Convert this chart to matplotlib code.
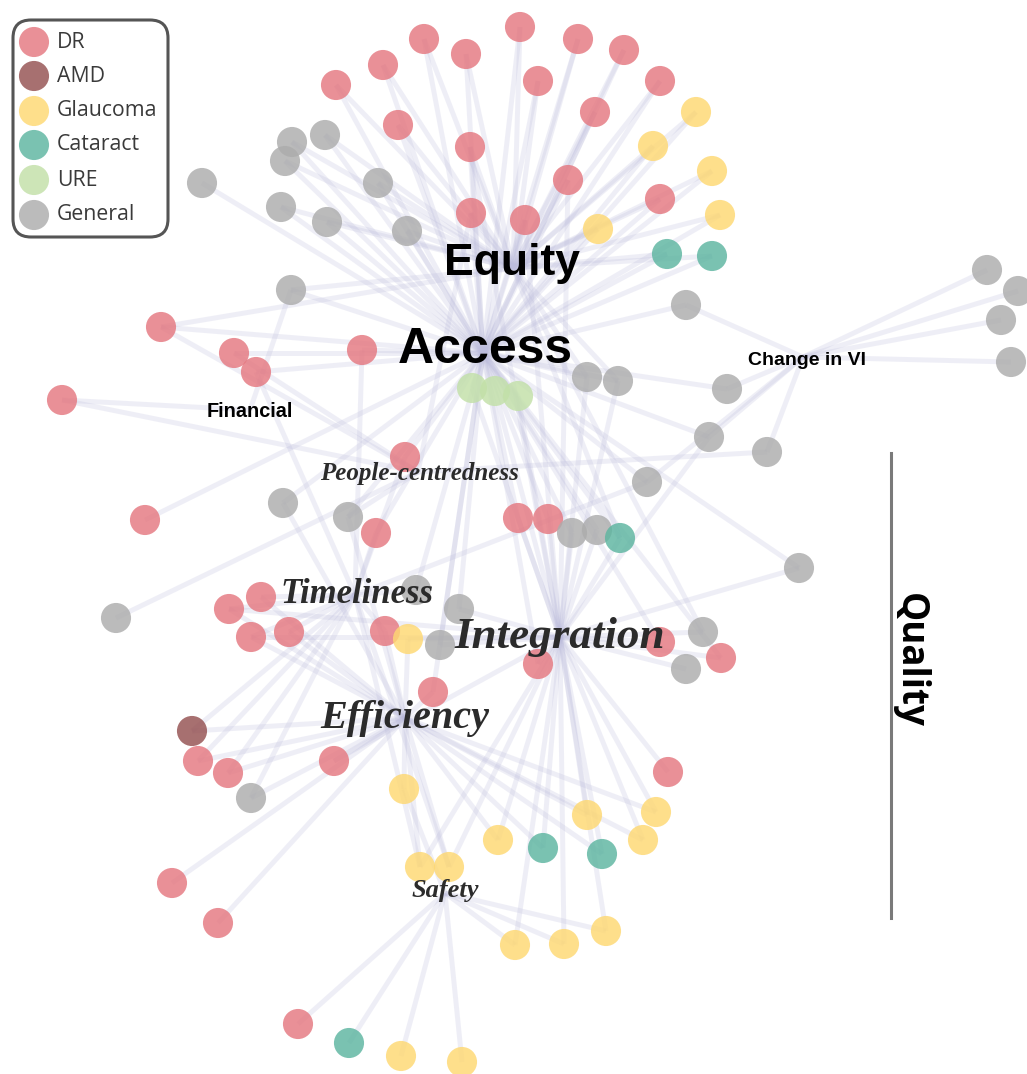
import matplotlib.pyplot as plt
from matplotlib.patches import FancyBboxPatch

# categorias y colores
categorias = ["DR", "AMD", "Glaucoma", "Cataract", "URE", "General"]
colores = {"DR": "#e57880", "AMD": "#945050", "Glaucoma": "#fed872",
           "Cataract": "#5db5a0", "URE": "#c2e0a8", "General": "#acacac"}

# nodos del grafo (x, y en el layout) y su categoria
nodo_x = [336, 383, 424, 466, 520, 578, 624, 538, 660, 696, 398, 595, 470, 653, 712, 568, 660, 720, 471, 525,
          598, 667, 712, 292, 325, 285, 202, 378, 281, 327, 407, 291, 686, 987, 1018, 1001, 1011, 161, 234, 256,
          362, 62, 145, 472, 495, 518, 587, 618, 727, 709, 767, 647, 799, 405, 283, 348, 376, 518, 548, 572,
          597, 620, 116, 229, 261, 251, 289, 416, 459, 385, 408, 440, 660, 703, 721, 686, 538, 433, 192, 198,
          228, 334, 251, 404, 668, 587, 656, 498, 543, 602, 643, 420, 449, 172, 218, 515, 564, 606, 298, 349,
          401, 462]
nodo_y = [85, 65, 39, 54, 27, 39, 50, 81, 81, 112, 125, 112, 147, 146, 171, 180, 199, 215, 213, 220,
          229, 254, 256, 142, 135, 161, 183, 183, 207, 222, 231, 290, 305, 270, 291, 320, 362, 327, 353, 372,
          350, 400, 520, 388, 391, 396, 377, 381, 389, 437, 452, 482, 568, 457, 503, 517, 533, 518, 519, 533,
          530, 538, 618, 609, 597, 637, 632, 590, 609, 631, 639, 645, 642, 632, 658, 669, 664, 692, 731, 761,
          773, 761, 798, 789, 772, 815, 812, 840, 848, 854, 840, 867, 867, 883, 923, 945, 944, 931, 1024, 1043,
          1056, 1062]
nodo_cat = ["DR"] * 9 + ["Glaucoma"] + ["DR"] * 3 + ["Glaucoma", "Glaucoma", "DR", "DR", "Glaucoma", "DR", "DR",
            "Glaucoma", "Cataract", "Cataract"] + ["General"] * 14 + ["DR"] * 6 + ["URE"] * 3 + \
           ["General"] * 7 + ["DR", "General", "General", "DR", "DR", "DR", "General", "General", "Cataract",
            "General", "DR", "DR", "DR", "DR", "General", "General", "DR", "Glaucoma", "General", "DR", "General",
            "DR", "General", "DR", "DR", "AMD", "DR", "DR", "DR", "General", "Glaucoma", "DR", "Glaucoma",
            "Glaucoma", "Glaucoma", "Cataract", "Cataract", "Glaucoma", "Glaucoma", "Glaucoma", "DR", "DR",
            "Glaucoma", "Glaucoma", "Glaucoma", "DR", "Cataract", "Glaucoma", "Glaucoma"]

# dimensiones (nodos centrales)
hubs = {"Equity": (513, 268), "Access": (483, 353), "Change": (803, 357), "Financial": (250, 410),
        "People": (418, 472), "Timeliness": (355, 595), "Integration": (560, 637),
        "Efficiency": (405, 718), "Safety": (445, 893)}

EA = ["Equity", "Access"]
enlaces = [EA, EA, EA, EA, EA, EA, EA, EA, EA, EA, EA, EA, EA + ["Integration"], EA, EA, EA + ["Integration"], EA, EA,
           EA + ["People"], EA + ["Integration"],
           EA, EA, EA, EA, EA, EA, ["Access"], EA, EA, EA, EA, EA + ["Financial"], ["Change", "Access"],
           ["Change"], ["Change"], ["Change"], ["Change"],
           EA + ["People"], ["Access", "People"], ["Access", "Timeliness"], ["Access", "Timeliness"],
           ["Financial", "People"], ["Access"],
           ["Access", "Integration"], ["Access", "Integration"], ["Access", "Integration"],
           EA + ["Integration"], EA + ["Integration"], ["Change", "Access"], ["Change", "Access", "Integration"],
           ["Change", "People"], ["Access", "Change", "Timeliness"], ["Access", "Integration"],
           ["Access", "Timeliness"], ["Access", "Efficiency"], ["Access", "People", "Efficiency"],
           ["Access", "Timeliness"], ["Access", "Integration"], ["Access", "Integration"], ["Access", "Integration"],
           ["Access", "Integration"], EA + ["Integration"], ["People"],
           ["Timeliness", "Efficiency", "Integration"], ["Timeliness", "Efficiency"],
           ["Timeliness", "Efficiency", "Integration"], ["Timeliness", "Efficiency"],
           ["Access", "Timeliness"], ["Access", "Integration"], ["Timeliness", "Efficiency"],
           ["Integration", "Efficiency"], ["Access", "Integration"], ["Integration", "Access"],
           ["Integration", "Equity"], ["Integration", "Access"], ["Integration"], ["Integration", "Access"],
           ["Efficiency", "Access"], ["Efficiency", "Timeliness"], ["Efficiency", "Timeliness"],
           ["Efficiency", "Timeliness"], ["Efficiency", "Integration"], ["Efficiency", "Timeliness"],
           ["Efficiency", "Safety"], ["Integration"], ["Efficiency", "Integration"], ["Efficiency", "Integration"],
           ["Integration", "Efficiency"], ["Efficiency", "Integration"], ["Efficiency", "Integration"],
           ["Integration", "Efficiency"], ["Efficiency", "Timeliness", "Integration"],
           ["Efficiency", "Timeliness", "Integration"], ["Efficiency"], ["Efficiency"],
           ["Safety", "Integration"], ["Safety", "Integration"], ["Safety", "Integration"],
           ["Safety"], ["Safety"], ["Safety"], ["Safety"]]

fig = plt.figure(figsize=(10.27, 10.74), dpi=100)
ax = fig.add_axes([0, 0, 1, 1])
ax.set_xlim(0, 1027)
ax.set_ylim(1074, 0)
ax.axis("off")

# enlaces
for x, y, hs in zip(nodo_x, nodo_y, enlaces):
    for h in hs:
        hx, hy = hubs[h]
        ax.plot([x, hx], [y, hy], color="#bcbcdc", alpha=0.24, lw=3.6, solid_capstyle="butt", zorder=1)

# nodos
ax.scatter(nodo_x, nodo_y, s=470, c=[colores[c] for c in nodo_cat], alpha=0.82, linewidths=0, zorder=2)

# etiquetas
sans = "Liberation Sans"
serif = "Liberation Serif"
ax.text(512, 275, "Equity", fontsize=32, fontweight="bold", family=sans, ha="center", va="baseline", zorder=3)
ax.text(485, 363, "Access", fontsize=36, fontweight="bold", family=sans, ha="center", va="baseline", zorder=3)
ax.text(748, 365, "Change in VI", fontsize=14, fontweight="bold", family=sans, ha="left", va="baseline", zorder=3)
ax.text(207, 417, "Financial", fontsize=14.3, fontweight="bold", family=sans, ha="left", va="baseline", zorder=3)
txt = dict(fontweight="bold", style="italic", family=serif, color="#2b2b2b", va="baseline", ha="left", zorder=3)
ax.text(320, 480, "People-centredness", fontsize=18, **txt)
ax.text(280, 603, "Timeliness", fontsize=25, **txt)
ax.text(454, 648, "Integration", fontsize=32.5, **txt)
ax.text(320, 728, "Efficiency", fontsize=29, **txt)
ax.text(412, 897, "Safety", fontsize=19, **txt)

# Quality
ax.plot([891, 891], [453, 918], color="#7a7a7a", lw=2.2, zorder=3)
ax.text(910, 660, "Quality", fontsize=26.5, fontweight="bold", family="Open Sans", rotation=-90,
        ha="center", va="center", zorder=3)

# leyenda
caja = FancyBboxPatch((13, 20), 155, 217, boxstyle="round,pad=0,rounding_size=18",
                      fc="white", ec="#555555", lw=2.2, zorder=4)
ax.add_patch(caja)
ley_y = [42, 76, 111, 145, 180, 215]
ax.scatter([34] * len(categorias), ley_y, s=470, c=[colores[c] for c in categorias], alpha=0.82,
           linewidths=0, zorder=5)
for cat, yy in zip(categorias, ley_y):
    ax.text(57, yy, cat, fontsize=15.3, family="Open Sans", color="#3a3a3a", va="center", ha="left", zorder=5)

fig.savefig("out.png", dpi=100)
